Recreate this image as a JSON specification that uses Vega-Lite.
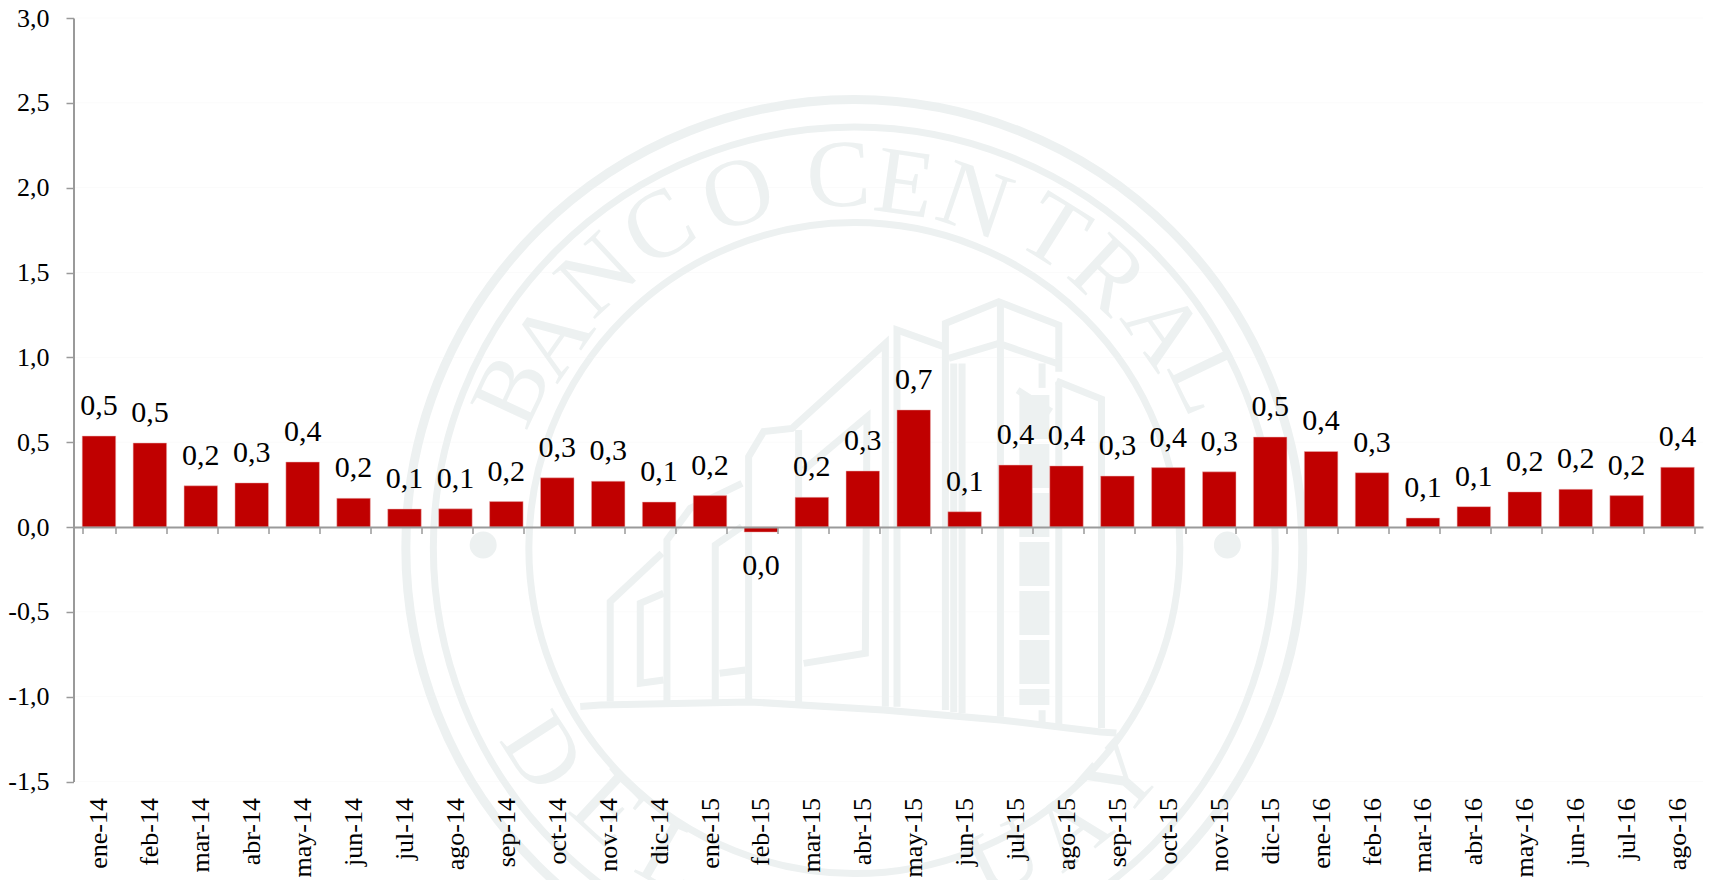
{"$schema":"https://vega.github.io/schema/vega-lite/v6.json","autosize":{"type":"none"},"padding":{"left":73.5,"top":18,"right":6,"bottom":98},"width":1629.5,"height":763.5,"background":"#ffffff","view":{"stroke":null},
"datasets":{
"serie":[{"mes":"ene-14","v":0.536,"et":"0,5"},{"mes":"feb-14","v":0.495,"et":"0,5"},{"mes":"mar-14","v":0.243,"et":"0,2"},{"mes":"abr-14","v":0.26,"et":"0,3"},{"mes":"may-14","v":0.383,"et":"0,4"},{"mes":"jun-14","v":0.169,"et":"0,2"},{"mes":"jul-14","v":0.106,"et":"0,1"},{"mes":"ago-14","v":0.107,"et":"0,1"},{"mes":"sep-14","v":0.15,"et":"0,2"},{"mes":"oct-14","v":0.29,"et":"0,3"},{"mes":"nov-14","v":0.27,"et":"0,3"},{"mes":"dic-14","v":0.147,"et":"0,1"},{"mes":"ene-15","v":0.185,"et":"0,2"},{"mes":"feb-15","v":-0.03,"et":"0,0"},{"mes":"mar-15","v":0.175,"et":"0,2"},{"mes":"abr-15","v":0.33,"et":"0,3"},{"mes":"may-15","v":0.69,"et":"0,7"},{"mes":"jun-15","v":0.09,"et":"0,1"},{"mes":"jul-15","v":0.365,"et":"0,4"},{"mes":"ago-15","v":0.36,"et":"0,4"},{"mes":"sep-15","v":0.3,"et":"0,3"},{"mes":"oct-15","v":0.35,"et":"0,4"},{"mes":"nov-15","v":0.325,"et":"0,3"},{"mes":"dic-15","v":0.53,"et":"0,5"},{"mes":"ene-16","v":0.445,"et":"0,4"},{"mes":"feb-16","v":0.32,"et":"0,3"},{"mes":"mar-16","v":0.053,"et":"0,1"},{"mes":"abr-16","v":0.12,"et":"0,1"},{"mes":"may-16","v":0.207,"et":"0,2"},{"mes":"jun-16","v":0.222,"et":"0,2"},{"mes":"jul-16","v":0.185,"et":"0,2"},{"mes":"ago-16","v":0.352,"et":"0,4"}],
"rejilla":[{"v":-1.5},{"v":-1},{"v":-0.5},{"v":0.5},{"v":1},{"v":1.5},{"v":2},{"v":2.5},{"v":3}],
"centro":[{"wx":15.334,"v":-0.124}],
"puntos":[{"wx":8.045,"v":-0.106},{"wx":22.66,"v":-0.106}],
"letras":[{"wx":8.634,"v":0.801,"c":"B","a":-65},{"wx":9.42,"v":1.102,"c":"A","a":-55},{"wx":10.304,"v":1.479,"c":"N","a":-43},{"wx":11.503,"v":1.762,"c":"C","a":-31},{"wx":13.055,"v":1.956,"c":"O","a":-18},{"wx":15.02,"v":2.062,"c":"C","a":-2.5},{"wx":16.316,"v":2.015,"c":"E","a":8},{"wx":17.692,"v":1.915,"c":"N","a":19},{"wx":19.244,"v":1.732,"c":"T","a":32},{"wx":20.305,"v":1.479,"c":"R","a":43},{"wx":21.385,"v":1.161,"c":"A","a":55},{"wx":22.21,"v":0.86,"c":"L","a":64.5},{"wx":9.185,"v":-1.332,"c":"D","a":57},{"wx":10.481,"v":-1.668,"c":"E","a":43},{"wx":11.739,"v":-1.962,"c":"L","a":30},{"wx":18.281,"v":-1.962,"c":"U","a":-26},{"wx":19.597,"v":-1.786,"c":"A","a":-38},{"wx":20.599,"v":-1.485,"c":"Y","a":-49}],
"escalera":[{"o":1,"wx":18.87,"v":0.778},{"o":2,"wx":18.87,"v":-1.049}],
"trazos":[
{"p":"base","o":1,"wx":9.951,"v":-1.058},{"p":"base","o":2,"wx":10.344,"v":-1.049},{"p":"base","o":3,"wx":13.29,"v":-1.031},{"p":"base","o":4,"wx":15.903,"v":-1.078},{"p":"base","o":5,"wx":18.202,"v":-1.137},{"p":"base","o":6,"wx":20.167,"v":-1.208},{"p":"base","o":7,"wx":20.481,"v":-1.214},
{"p":"l1","o":1,"wx":10.54,"v":-1.029},{"p":"l1","o":2,"wx":10.54,"v":-0.44},{"p":"l1","o":3,"wx":11.556,"v":-0.155},
{"p":"l2","o":1,"wx":11.588,"v":-0.391},{"p":"l2","o":2,"wx":11.13,"v":-0.45},{"p":"l2","o":3,"wx":11.13,"v":-0.921},{"p":"l2","o":4,"wx":11.588,"v":-0.902},
{"p":"l3","o":1,"wx":11.654,"v":-1.029},{"p":"l3","o":2,"wx":11.654,"v":-0.077},{"p":"l3","o":3,"wx":12.112,"v":0.11},{"p":"l3","o":4,"wx":13.127,"v":0.257},
{"p":"l4","o":1,"wx":12.603,"v":-1.029},{"p":"l4","o":2,"wx":12.603,"v":-0.106},{"p":"l4","o":3,"wx":13.127,"v":0.002},
{"p":"l5","o":1,"wx":13.258,"v":-1.029},{"p":"l5","o":2,"wx":13.258,"v":0.414},{"p":"l5","o":3,"wx":13.553,"v":0.562},{"p":"l5","o":4,"wx":14.11,"v":0.581},{"p":"l5","o":5,"wx":15.943,"v":1.082},{"p":"l5","o":6,"wx":15.943,"v":-1.059},
{"p":"l6","o":1,"wx":14.24,"v":0.572},{"p":"l6","o":2,"wx":14.24,"v":-1.039},
{"p":"l7","o":1,"wx":14.339,"v":0.336},{"p":"l7","o":2,"wx":15.583,"v":0.65},{"p":"l7","o":3,"wx":15.55,"v":-0.744},{"p":"l7","o":4,"wx":14.339,"v":-0.804},
{"p":"l8","o":1,"wx":12.688,"v":-0.862},{"p":"l8","o":2,"wx":13.193,"v":-0.843},
{"p":"l9","o":1,"wx":16.172,"v":-1.059},{"p":"l9","o":2,"wx":16.172,"v":1.161},{"p":"l9","o":3,"wx":17.089,"v":1.063},
{"p":"l10","o":1,"wx":17.122,"v":-1.078},{"p":"l10","o":2,"wx":17.122,"v":1.2},{"p":"l10","o":3,"wx":18.17,"v":1.328},{"p":"l10","o":4,"wx":19.349,"v":1.19},{"p":"l10","o":5,"wx":19.349,"v":0.915},
{"p":"l11","o":1,"wx":17.187,"v":0.994},{"p":"l11","o":2,"wx":18.17,"v":1.082},{"p":"l11","o":3,"wx":19.316,"v":0.964},
{"p":"l12","o":1,"wx":18.203,"v":1.308},{"p":"l12","o":2,"wx":18.203,"v":-1.118},
{"p":"l13","o":1,"wx":17.449,"v":0.964},{"p":"l13","o":2,"wx":17.449,"v":-1.098},
{"p":"l13b","o":1,"wx":17.286,"v":0.964},{"p":"l13b","o":2,"wx":17.286,"v":-1.09},
{"p":"l14a","o":1,"wx":19.021,"v":0.964},{"p":"l14a","o":2,"wx":19.021,"v":0.82},
{"p":"l14b","o":1,"wx":19.021,"v":-1.08},{"p":"l14b","o":2,"wx":19.021,"v":-1.157},
{"p":"l15","o":1,"wx":19.349,"v":0.856},{"p":"l15","o":2,"wx":19.349,"v":-1.177},
{"p":"l16","o":1,"wx":19.303,"v":0.86},{"p":"l16","o":2,"wx":20.187,"v":0.754},{"p":"l16","o":3,"wx":20.187,"v":-1.184},
{"p":"l17","o":1,"wx":18.54,"v":0.807},{"p":"l17","o":2,"wx":19.2,"v":0.68}
]},
"encoding":{"y":{"field":"v","type":"quantitative","title":null,"scale":{"domain":[-1.5,3],"nice":false,"zero":false},"axis":{"values":[-1.5,-1,-0.5,0,0.5,1,1.5,2,2.5,3],"labelExpr":"replace(replace(format(datum.value,'.1f'),'.',','),'−','-')","labelFont":"Liberation Serif","labelFontSize":26,"labelColor":"#000000","labelPadding":17,"tickSize":7.5,"tickColor":"#9a9a9a","tickWidth":1.5,"domainColor":"#9a9a9a","domainWidth":2,"grid":false,"zindex":1}}},
"layer":[
{"data":{"name":"rejilla"},"mark":{"type":"rule","stroke":"#fbfbfb","strokeWidth":1}},
{"data":{"name":"centro"},"mark":{"type":"point","filled":false,"stroke":"#edf1f1","strokeWidth":9,"size":804609,"opacity":1},"encoding":{"x":{"field":"wx","type":"quantitative","axis":null,"scale":{"domain":[0,32],"nice":false,"zero":false}}}},
{"data":{"name":"centro"},"mark":{"type":"point","filled":false,"stroke":"#edf1f1","strokeWidth":7,"size":708964,"opacity":1},"encoding":{"x":{"field":"wx","type":"quantitative","axis":null,"scale":{"domain":[0,32],"nice":false,"zero":false}}}},
{"data":{"name":"centro"},"mark":{"type":"point","filled":false,"stroke":"#edf1f1","strokeWidth":7,"size":423801,"opacity":1},"encoding":{"x":{"field":"wx","type":"quantitative","axis":null,"scale":{"domain":[0,32],"nice":false,"zero":false}}}},
{"data":{"name":"puntos"},"mark":{"type":"point","filled":true,"fill":"#edf1f1","stroke":null,"size":729,"opacity":1},"encoding":{"x":{"field":"wx","type":"quantitative","axis":null,"scale":{"domain":[0,32],"nice":false,"zero":false}}}},
{"data":{"name":"letras"},"mark":{"type":"text","font":"Liberation Serif","fontSize":96,"fill":"#edf1f1","align":"center","baseline":"middle"},"encoding":{"x":{"field":"wx","type":"quantitative","axis":null,"scale":{"domain":[0,32],"nice":false,"zero":false}},"text":{"field":"c"},"angle":{"field":"a","type":"quantitative","scale":null}}},
{"data":{"name":"trazos"},"mark":{"type":"line","stroke":"#edf1f1","strokeWidth":7,"strokeJoin":"miter"},"encoding":{"x":{"field":"wx","type":"quantitative","axis":null,"scale":{"domain":[0,32],"nice":false,"zero":false}},"detail":{"field":"p"},"order":{"field":"o","type":"quantitative"}}},
{"data":{"name":"escalera"},"mark":{"type":"line","stroke":"#edf1f1","strokeWidth":30,"strokeDash":[44,5]},"encoding":{"x":{"field":"wx","type":"quantitative","axis":null,"scale":{"domain":[0,32],"nice":false,"zero":false}},"order":{"field":"o","type":"quantitative"}}},
{"data":{"name":"serie"},"encoding":{"x":{"field":"mes","type":"nominal","sort":null,"title":null,"scale":{"paddingInner":0.342,"paddingOuter":0.171},"axis":{"orient":"bottom","offset":-254.5,"tickBand":"extent","labelAngle":-90,"labelAlign":"right","labelBaseline":"middle","labelFont":"Liberation Serif","labelFontSize":26,"labelColor":"#000000","labelPadding":264,"labelOverlap":false,"labelBound":false,"labelFlush":false,"tickSize":6.5,"tickColor":"#9a9a9a","tickWidth":1.5,"domainColor":"#9a9a9a","domainWidth":2,"grid":false,"zindex":1}}},
"layer":[
{"mark":{"type":"bar","fill":"#c00000","stroke":"#eab4b4","strokeWidth":0.5}},
{"transform":[{"filter":"datum.v>=0"}],"mark":{"type":"text","font":"Liberation Serif","fontSize":30,"fill":"#000000","align":"center","baseline":"alphabetic","dy":-21},"encoding":{"text":{"field":"et"}}},
{"transform":[{"filter":"datum.v<0"}],"mark":{"type":"text","font":"Liberation Serif","fontSize":30,"fill":"#000000","align":"center","baseline":"alphabetic","dy":43},"encoding":{"text":{"field":"et"}}}
]}
],
"resolve":{"scale":{"x":"independent"}}}
